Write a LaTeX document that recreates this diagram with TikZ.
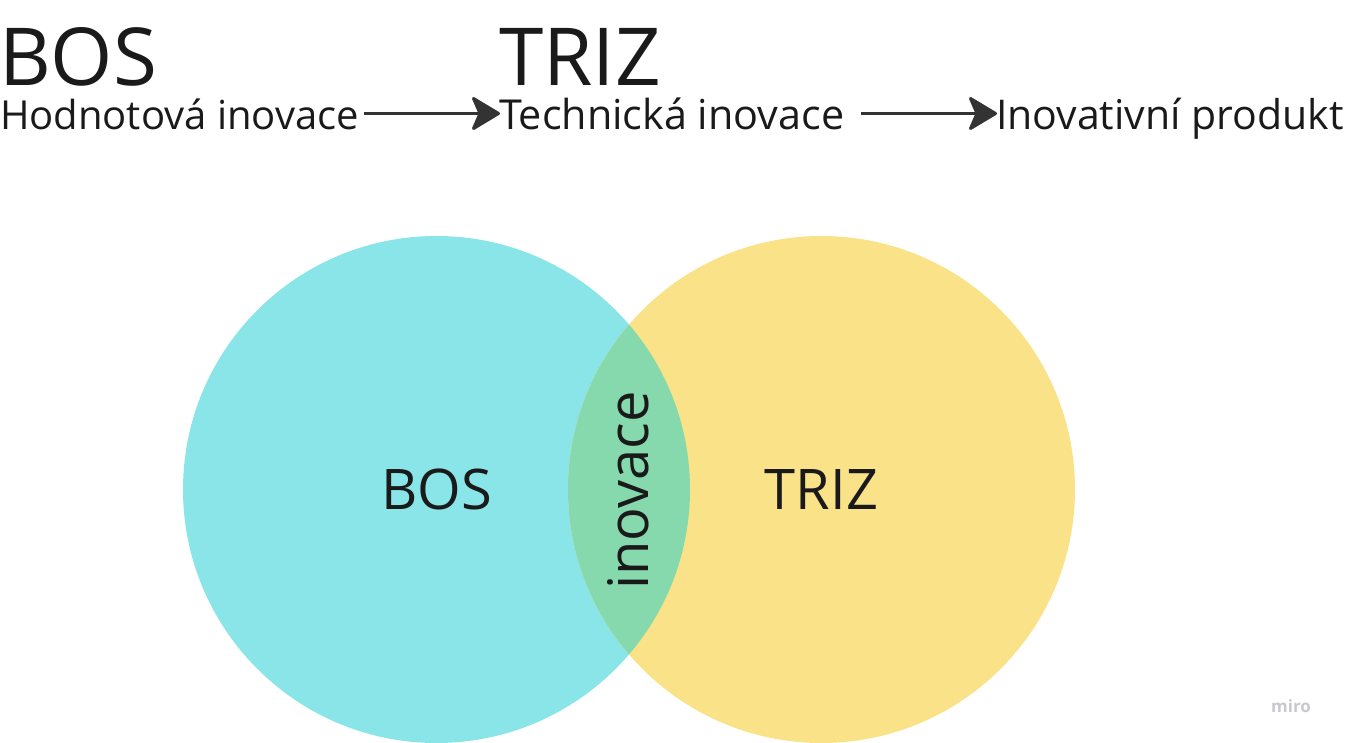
\documentclass[tikz,border=0pt]{standalone}
\usepackage{fontspec}
\setmainfont{Open Sans}
\usetikzlibrary{arrows.meta,calc}
\definecolor{cyanc}{HTML}{89E5E8}
\definecolor{yellc}{HTML}{FAE288}
\definecolor{greenc}{HTML}{86D9AD}
\definecolor{ink}{HTML}{1A1A1A}
\definecolor{arrc}{HTML}{333333}
\definecolor{miroc}{HTML}{C8C8D0}
\tikzset{
  txt/.style={inner sep=0pt, outer sep=0pt, anchor=base west, text=ink},
  big/.style={font=\fontsize{80}{84}\selectfont},
  mid/.style={font=\fontsize{40.5}{44}\selectfont},
  inner/.style={font=\fontsize{56}{60}\selectfont, text=ink, inner sep=0pt},
  flow/.style={draw=arrc, line width=3pt, -{Stealth[length=31pt,width=37pt,inset=8pt,round]}},
  venn/.style={circle, minimum size=507pt, inner sep=0pt, outer sep=0pt}
}
\begin{document}
\begin{tikzpicture}[x=1pt,y=-1pt]
\useasboundingbox (0,0) rectangle (1345,743);
% circles
\node[venn, fill=cyanc] (cbos) at (436.5,489.5) {};
\node[venn, fill=yellc] (ctriz) at (821.5,489.5) {};
\begin{scope}
  \clip (436.5,489.5) circle[radius=253.5];
  \fill[greenc] (821.5,489.5) circle[radius=253.5];
\end{scope}
% labels in circles
\node[inner, anchor=base] (lbos) at (437,509) {BOS};
\node[inner, anchor=base] (ltriz) at (821.5,509) {TRIZ};
\node[inner, anchor=base, rotate=90] (linov) at (648,490.5) {inovace};
% top texts
\node[txt, big] (tbos) at (-1,86) {BOS};
\node[txt, big] (ttriz) at (499,86) {TRIZ};
\node[txt, mid, font=\fontsize{40}{44}\selectfont] (hod) at (0,129.5) {Hodnotová inovace};
\node[txt, mid, font=\fontsize{41.3}{44}\selectfont] (tech) at (499,129.5) {Technická inovace};
\node[txt, mid, font=\fontsize{41}{44}\selectfont] (prod) at (996,129.5) {Inovativní produkt};
\draw[flow] ([shift={(5,-16)}]hod.base east) -- ([shift={(1,-16)}]tech.base west);
\draw[flow] ([shift={(17,-16)}]tech.base east) -- ([shift={(1,-16)}]prod.base west);
% watermark
\node[inner sep=0pt, anchor=base west, text=miroc, font=\fontsize{17}{19}\selectfont\bfseries] (miro) at (1271,712) {miro};
\end{tikzpicture}
\end{document}
